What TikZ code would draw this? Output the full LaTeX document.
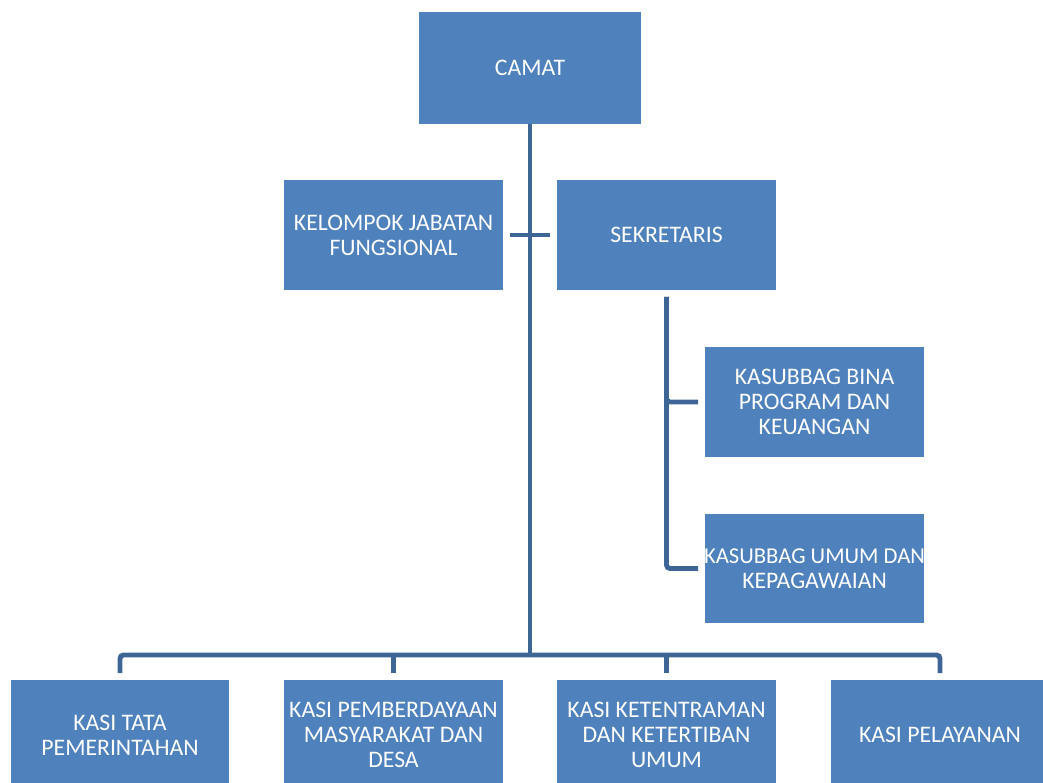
\documentclass[tikz,border=0pt]{standalone}
\usepackage{fontspec}
\setmainfont{Carlito}
\usepackage{tikz}
\usetikzlibrary{calc}

\definecolor{boxblue}{HTML}{4F81BD}
\definecolor{lineblue}{HTML}{3D6596}

\begin{document}
\begin{tikzpicture}[x=0.02cm, y=-0.02cm,
        unit/.style={rectangle, fill=boxblue, text=white, align=center,
            minimum width=4.38cm, minimum height=2.2cm, inner sep=1pt,
            outer sep=0.14cm, font=\fontsize{13.5}{14.3}\selectfont},
        link/.style={draw=lineblue, line width=2.8pt, rounded corners=2pt}]
        \useasboundingbox (0,0) rectangle (1043,783);

        \node[unit, minimum width=4.44cm, minimum height=2.24cm, outer sep=0pt] (camat) at (530,68) {CAMAT};
        \node[unit] (kjf) at (393.5,235) {KELOMPOK JABATAN\\FUNGSIONAL};
        \node[unit] (sek) at (666.5,235) {SEKRETARIS};
        \node[unit] (bina) at (814.5,402) {KASUBBAG BINA\\PROGRAM DAN\\KEUANGAN};
        \node[unit] (umum) at (814.5,568.5) {\makebox[4.2cm]{\fontsize{12.9}{14.3}\selectfont KASUBBAG UMUM DAN}\\KEPAGAWAIAN};

        \node[unit] (tata) at (120,735) {KASI TATA\\PEMERINTAHAN};
        \node[unit] (pemb) at (393.5,735) {KASI PEMBERDAYAAN\\MASYARAKAT DAN\\DESA};
        \node[unit] (ket) at (666.5,735) {KASI KETENTRAMAN\\DAN KETERTIBAN\\UMUM};
        \node[unit] (pel) at (940,735) {KASI PELAYANAN};

        \coordinate (bus) at ($(tata.north)+(0,-18)$);

        \draw[link] (camat.south) -- (camat.south |- bus);
        \draw[link] (kjf.east) -- (sek.west);
        \draw[link] (sek.south) |- (bina.west);
        \draw[link] (sek.south) |- (umum.west);
        \draw[link] (tata.north) -- (bus) -| (pel.north);
        \draw[link] (pemb.north) -- (pemb.north |- bus);
        \draw[link] (ket.north) -- (ket.north |- bus);
    \end{tikzpicture}
\end{document}
